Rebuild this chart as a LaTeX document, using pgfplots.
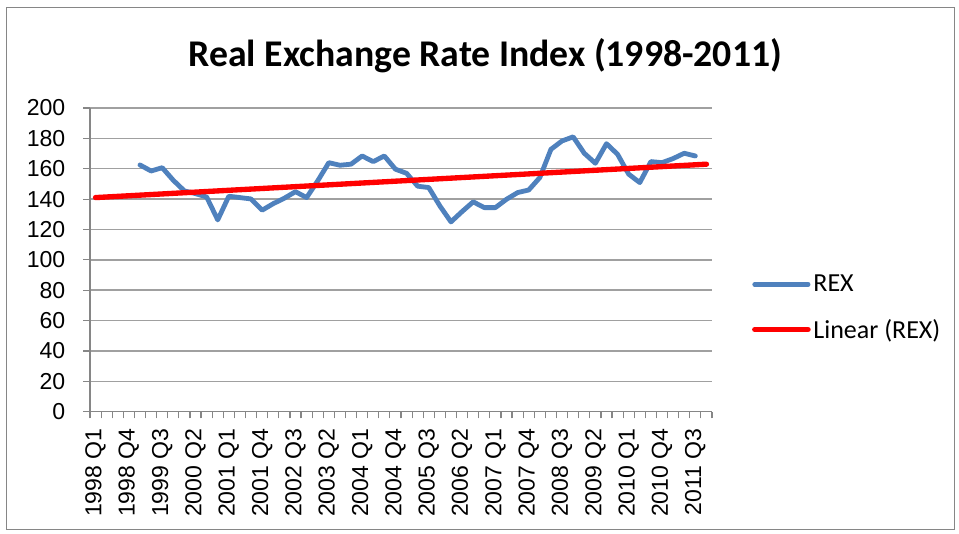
\documentclass[border=0pt]{standalone}
\usepackage{pgfplots}
\pgfplotsset{compat=1.18}
\usepackage{fontspec}
\setmainfont{Carlito}
\newfontfamily\arialf{Liberation Sans}
\definecolor{rexblue}{HTML}{4F81BD}
\definecolor{gridgray}{HTML}{A0A0A0}
\definecolor{axisgray}{HTML}{868686}
\pgfplotstableread{
x y
4.5 162.5
5.5 158.5
6.5 160.7
7.5 152.4
8.5 145.4
9.5 143.6
10.5 141.4
11.5 126.3
12.5 141.9
13.5 141.0
14.5 140.1
15.5 132.7
16.5 137.0
17.5 140.6
18.5 144.9
19.5 141.0
20.5 152.0
21.5 164.0
22.5 162.3
23.5 163.0
24.5 168.4
25.5 164.7
26.5 168.4
27.5 159.7
28.5 157.0
29.5 148.5
30.5 147.6
31.5 135.5
32.5 125.0
33.5 131.8
34.5 138.2
35.5 134.4
36.5 134.4
37.5 139.9
38.5 144.3
39.5 146.0
40.5 154.2
41.5 172.8
42.5 178.3
43.5 181.0
44.5 170.2
45.5 163.6
46.5 176.5
47.5 169.5
48.5 156.4
49.5 150.9
50.5 164.7
51.5 164.0
52.5 166.7
53.5 170.2
54.5 168.4
}\rexdata
\pgfplotstableread{
x y
0.5 141
55.5 163
}\trenddata
\begin{document}
\begin{tikzpicture}
\path[fill=white] (0,0) rectangle (719.25pt,399.75pt);
\draw[axisgray, line width=1.2pt] (5pt,2.5pt) rectangle (716pt,394pt);
\node[font=\bfseries\fontsize{28.3}{33}\selectfont, anchor=center] at (364pt,358pt) {Real Exchange Rate Index (1998-2011)};
\begin{axis}[
  at={(67.5pt,91pt)}, anchor=south west,
  scale only axis, width=466.5pt, height=227.75pt,
  xmin=0, xmax=56, ymin=0, ymax=200,
  axis x line=bottom, axis y line=left,
  axis line style={-, axisgray, line width=1.1pt},
  xtick={0,...,56}, xticklabels={},
  extra x ticks={0.5,3.5,...,54.5},
  extra x tick labels={1998 Q1,1998 Q4,1999 Q3,2000 Q2,2001 Q1,2001 Q4,2002 Q3,2003 Q2,2004 Q1,2004 Q4,2005 Q3,2006 Q2,2007 Q1,2007 Q4,2008 Q3,2009 Q2,2010 Q1,2010 Q4,2011 Q3},
  extra x tick style={major tick length=0pt, grid=none, xticklabel style={rotate=90, anchor=east, xshift=-9pt}},
  ytick={0,20,...,200},
  ymajorgrids,
  major grid style={gridgray, line width=1.1pt},
  tick align=outside,
  major tick length=5pt,
  tick style={axisgray, line width=0.9pt},
  /pgf/number format/assume math mode=true,
  ticklabel style={font=\arialf\fontsize{17.3}{20}\selectfont, text=black},
  yticklabel style={xshift=-10pt},
  legend style={draw=none, fill=none, at={(1.064,0.343)}, anchor=west,
    font=\fontsize{19.5}{22}\selectfont, row sep=15pt, inner sep=0pt,
    legend cell align=left},
  legend image code/.code={\draw[#1] (0pt,0pt) -- (40pt,0pt);},
  clip=false,
]
\addplot[rexblue, line width=3.6pt, line join=round, line cap=round] table[x=x,y=y] {\rexdata};
\addlegendentry{REX}
\addplot[red, line width=4pt, line cap=round] table[x=x,y=y] {\trenddata};
\addlegendentry{Linear (REX)}
\end{axis}
\end{tikzpicture}
\end{document}
